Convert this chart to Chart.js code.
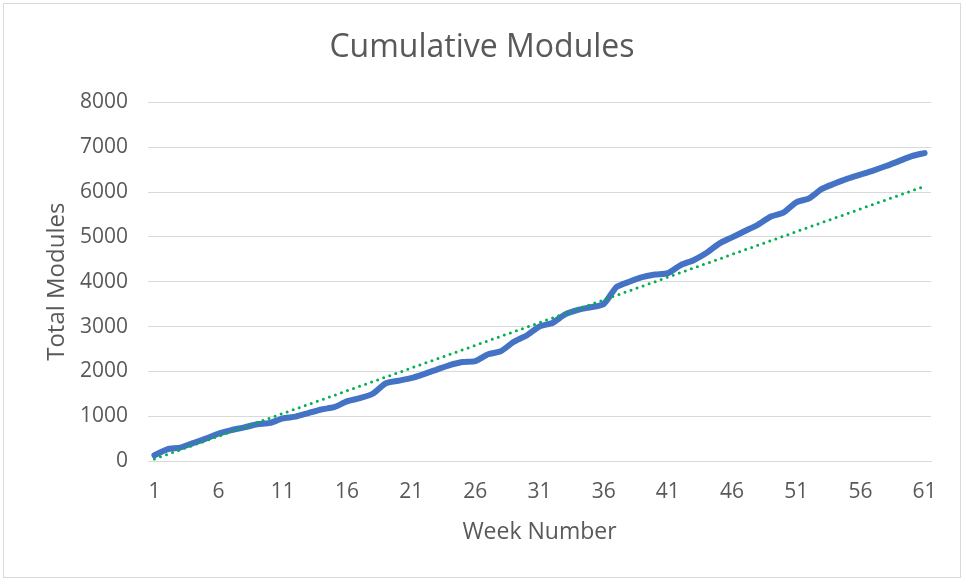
<!DOCTYPE html>
<html>
<head>
<meta charset="utf-8">
<script src="https://cdn.jsdelivr.net/npm/chart.js@4"></script>
<style>
  html, body { margin: 0; padding: 0; background: #fff; }
  #wrap { width: 964px; height: 580px; position: relative; }
</style>
</head>
<body>
<div id="wrap"><canvas id="chart" width="964" height="580"></canvas></div>
<script>
// 周数 1..61
var weeks = [];
for (var w = 1; w <= 61; w++) weeks.push(String(w));

// 累计模块数
var totalModules = [
  130, 260, 300, 400, 500, 610, 690, 750, 820, 850,
  950, 990, 1070, 1150, 1200, 1330, 1400, 1500, 1730, 1790,
  1850, 1940, 2040, 2140, 2210, 2230, 2380, 2450, 2660, 2800,
  3000, 3080, 3270, 3370, 3430, 3500, 3880, 4000, 4100, 4160,
  4190, 4370, 4480, 4640, 4850, 4990, 5130, 5270, 5450, 5540,
  5770, 5860, 6070, 6190, 6300, 6390, 6480, 6580, 6690, 6800,
  6870
];

// 趋势线两端
var trendWeeks = ['1', '61'];
var trendValues = [45, 6130];

var yTicks = [0, 1000, 2000, 3000, 4000, 5000, 6000, 7000, 8000];

var textColor = '#595959';
var gridColor = '#d9d9d9';
var fontFamily = '"Open Sans", "Noto Sans", sans-serif';

// 白底 + 外框
var frame = {
  id: 'frame',
  beforeDraw: function(chart) {
    var ctx = chart.ctx;
    ctx.save();
    ctx.fillStyle = '#fff';
    ctx.fillRect(0, 0, chart.width, chart.height);
    ctx.strokeStyle = gridColor;
    ctx.lineWidth = 1;
    ctx.strokeRect(3.5, 3.5, 957, 574);
    ctx.restore();
  }
};

new Chart(document.getElementById('chart'), {
  type: 'line',
  data: {
    labels: weeks,
    datasets: [
      {
        label: 'Linear (Total Modules)',
        data: trendWeeks.map(function(w, i) { return { x: w, y: trendValues[i] }; }),
        borderColor: '#00b050',
        borderWidth: 3,
        borderDash: [0, 6.4],
        borderCapStyle: 'round',
        pointRadius: 0,
        fill: false,
        order: 0
      },
      {
        label: 'Total Modules',
        data: totalModules,
        borderColor: '#4472c4',
        borderWidth: 6,
        borderJoinStyle: 'round',
        borderCapStyle: 'round',
        pointRadius: 0,
        tension: 0.2,
        fill: false,
        order: 1
      }
    ]
  },
  options: {
    responsive: false,
    animation: false,
    layout: { padding: 0 },
    plugins: {
      legend: { display: false },
      tooltip: { enabled: false },
      title: {
        display: true,
        text: 'Cumulative Modules',
        color: textColor,
        font: { family: fontFamily, size: 32, weight: 'normal' },
        padding: { top: 29, bottom: 35 }
      }
    },
    scales: {
      x: {
        type: 'category',
        offset: true,
        grid: { display: false, drawTicks: false },
        border: { display: true, color: gridColor, width: 1 },
        ticks: {
          autoSkip: false,
          maxRotation: 0,
          color: textColor,
          padding: 18,
          font: { family: fontFamily, size: 21 },
          callback: function(val, i) { return i % 5 === 0 ? this.getLabelForValue(val) : ''; }
        },
        title: {
          display: true,
          text: 'Week Number',
          color: textColor,
          font: { family: fontFamily, size: 23 },
          padding: { top: 0, bottom: 34 }
        },
        afterFit: function(scale) { scale.height = 119; }
      },
      y: {
        min: 0,
        max: 8000,
        afterBuildTicks: function(scale) {
          scale.ticks = yTicks.map(function(v) { return { value: v }; });
        },
        grid: { color: gridColor, lineWidth: 1, drawTicks: false },
        border: { display: false },
        ticks: {
          color: textColor,
          padding: 20,
          font: { family: fontFamily, size: 21 },
          callback: function(v) { return String(v); }
        },
        title: {
          display: true,
          text: 'Total Modules',
          color: textColor,
          font: { family: fontFamily, size: 24 },
          padding: { top: 43, bottom: 0 }
        },
        afterFit: function(scale) { scale.width = 148; }
      },
      // 右侧留白，保持标题居中
      yRight: {
        position: 'right',
        display: true,
        min: 0,
        max: 8000,
        grid: { display: false, drawTicks: false },
        border: { display: false },
        ticks: { display: false },
        afterFit: function(scale) { scale.width = 33; }
      }
    }
  },
  plugins: [frame]
});
</script>
</body>
</html>
